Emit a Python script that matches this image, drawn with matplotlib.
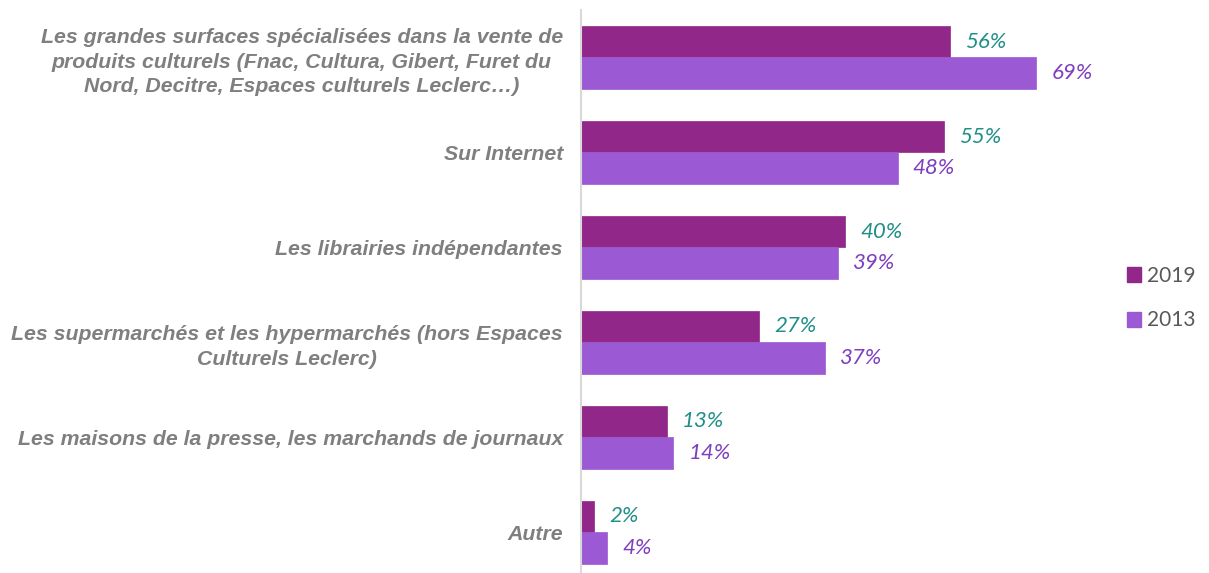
import matplotlib
matplotlib.use("Agg")
import matplotlib.pyplot as plt
from matplotlib.patches import Patch
import numpy as np

categories = [
    "Les grandes surfaces spécialisées dans la vente de\nproduits culturels (Fnac, Cultura, Gibert, Furet du\nNord, Decitre, Espaces culturels Leclerc…)",
    "Sur Internet",
    "Les librairies indépendantes",
    "Les supermarchés et les hypermarchés (hors Espaces\nCulturels Leclerc)",
    "Les maisons de la presse, les marchands de journaux",
    "Autre",
]
values_2019 = [56, 55, 40, 27, 13, 2]
values_2013 = [69, 48, 39, 37, 14, 4]
series_names = ["2019", "2013"]

c2019 = "#912889"
c2013 = "#9b59d3"
lab2019 = "#1f8f88"
lab2013 = "#7d3fc0"

fig = plt.figure(figsize=(12.09, 5.73), dpi=100)
ax = fig.add_axes([581/1209, 0, 527.5/1209, 563/573])

y = np.arange(len(categories))
h = 1/3
ax.barh(y - h/2, values_2019, height=h, color=c2019, edgecolor=c2019, linewidth=0.5)
ax.barh(y + h/2, values_2013, height=h, color=c2013, edgecolor=c2013, linewidth=0.5)

for yi, v in zip(y, values_2019):
    ax.annotate(f"{v}%", (v, yi - h/2), xytext=(11, 0), textcoords="offset points",
                ha="left", va="center", fontsize=16, style="italic", color=lab2019, family="Lato")
for yi, v in zip(y, values_2013):
    ax.annotate(f"{v}%", (v, yi + h/2), xytext=(11, 0), textcoords="offset points",
                ha="left", va="center", fontsize=16, style="italic", color=lab2013, family="Lato")

ax.set_xlim(0, 80)
ax.set_ylim(5.43, -0.5)
ax.set_yticks(y)
ax.set_yticklabels(categories, fontsize=15.3, fontweight="bold", style="italic",
                   color="#7f7f7f", family="Liberation Sans", multialignment="center",
                   linespacing=1.36)
ax.tick_params(axis="y", length=0, pad=13)
ax.set_xticks([])
for s in ["top", "right", "bottom"]:
    ax.spines[s].set_visible(False)
ax.spines["left"].set_color("#d9d9d9")
ax.spines["left"].set_linewidth(1.5)

handles = [Patch(color=c2019, label=series_names[0]), Patch(color=c2013, label=series_names[1])]
fig.legend(handles=handles, loc="center left", bbox_to_anchor=(1108/1209, 1 - 298/573),
           frameon=False, handlelength=0.7, handleheight=0.7,
           labelspacing=1.2, handletextpad=0.25, labelcolor="#595959",
           prop={"family": "Lato", "size": 15})

fig.savefig("out.png", dpi=100)
